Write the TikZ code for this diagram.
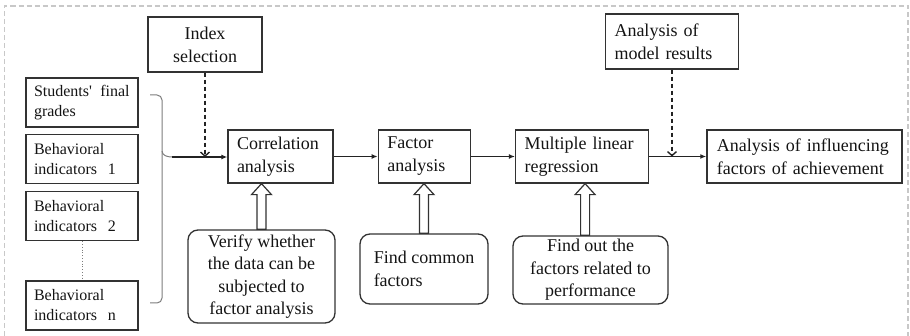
\documentclass[tikz,border=0pt]{standalone}
\usepackage{fontspec}
\setmainfont{Liberation Serif}
\usepackage{tikz}
\usetikzlibrary{
  positioning,
  arrows.meta,
  calc
}
\definecolor{boxborder}{RGB}{50,50,50}
\definecolor{textcol}{RGB}{20,20,20}
\definecolor{framegray}{RGB}{200,200,200}
\definecolor{bracegray}{RGB}{125,125,125}
\definecolor{arrowcolor}{RGB}{35,35,35}
\tikzset{
  procbox/.style={
    draw=boxborder, line width=1.3pt, text=textcol,
    minimum height=53pt, inner xsep=9pt, inner ysep=2pt,
    align=left, font=\fontsize{18}{23}\selectfont
  },
  inbox/.style={
    draw=boxborder, line width=1.3pt, text=textcol,
    minimum height=49pt, text width=96pt, inner xsep=8pt,
    align=left, font=\fontsize{16}{20}\selectfont
  },
  notebox/.style={
    draw=boxborder, line width=1.3pt, rounded corners=10pt, text=textcol,
    inner xsep=6pt, inner ysep=1pt,
    font=\fontsize{18}{22.5}\selectfont
  },
  flowarrow/.style={
    -{Latex[length=6pt,width=5pt]}, line width=1.2pt, draw=arrowcolor
  },
  dasharrow/.style={
    -{Straight Barb[length=4pt,width=9pt]}, line width=1.4pt, draw=arrowcolor,
    dash pattern=on 4pt off 3pt
  },
  bracelink/.style={
    draw=bracegray, line width=1pt, rounded corners=5pt
  },
  hollowarr/.style={
    draw=boxborder, line width=1.2pt, fill=white
  },
  framebox/.style={
    draw=framegray, line width=1.1pt, dash pattern=on 5pt off 3pt
  }
}
% hollow block arrow going up from #1 to #2
\newcommand{\hollowup}[2]{%
  \draw[hollowarr] let \p1=#1, \p2=#2 in
    (\x1-4.5pt,\y1) -- (\x1-4.5pt,\y2-11pt) -- (\x1-10pt,\y2-11pt) -- (\x1,\y2)
    -- (\x1+10pt,\y2-11pt) -- (\x1+4.5pt,\y2-11pt) -- (\x1+4.5pt,\y1) -- cycle;
}

\begin{document}
\begin{tikzpicture}[x=1pt, y=-1pt, node distance=6pt]
  \useasboundingbox (0,0) rectangle (910,336);

  % Outer frame (open at the bottom)
  \draw[framebox] (4.5,336) -- (4.5,6) -- (908,6) -- (908,336);

  % Column 0: inputs
  \node[inbox] (stu) at (82,102.5) {\mbox{Students\textquotesingle\hspace{3pt} final}\\grades};
  \node[inbox, below=6pt of stu] (bi1) {Behavioral\\indicators\ \ 1};
  \node[inbox, below=7pt of bi1] (bi2) {Behavioral\\indicators\ \ 2};
  \node[inbox, below=39pt of bi2] (bin) {Behavioral\\indicators\ \ n};
  \draw[draw=bracegray, line width=0.8pt, dotted] (bi2.south) -- (bin.north);

  % Brace collecting the inputs
  \coordinate (brtip) at (172,157);
  \draw[bracelink] (150,95) -| (162,157) |- (150,303);
  \draw[bracelink] (162,151) to[out=-90, in=180] (brtip);

  % Row 1: main steps
  \node[procbox, text width=87pt] (correl) at (280.5,156.5) {Correlation\\analysis};
  \node[procbox, text width=74pt, right=44pt of correl] (factor) {Factor\\analysis};
  \node[procbox, text width=115pt, right=44pt of factor] (mlr) {Multiple linear\\regression};
  \node[procbox, text width=175pt, inner xsep=10pt, right=57pt of mlr] (aif) {Analysis of influencing\\factors of achievement};

  % Row 0: top boxes
  \node[procbox, minimum height=55pt, text width=96pt, align=center] (index) at (205,44.5) {Index\\selection};
  \node[procbox, minimum height=55pt, text width=115pt] (model) at (672,41.5) {Analysis of\\model results};

  % Row 2: notes
  \node[notebox, minimum width=147pt, minimum height=93pt, align=center] (verify) at (261.5,276.5) {Verify whether\\the data can be\\subjected to\\factor analysis};
  \node[notebox, minimum width=128pt, minimum height=70pt, align=left] (common) at (424,269) {Find common\\factors};
  \node[notebox, minimum width=155pt, minimum height=68pt, align=center] (findout) at (590.5,270) {Find out the\\factors related to\\performance};

  % Arrows along row 1
  \draw[flowarrow] (brtip) -- (brtip -| correl.west);
  \draw[flowarrow] (correl) -- (factor);
  \draw[flowarrow] (factor) -- (mlr);
  \draw[flowarrow] (mlr) -- (aif);

  % Dashed arrows from the top boxes
  \coordinate (idxtip) at (index.south |- brtip);
  \coordinate (modtip) at (model.south |- aif.west);
  \draw[dasharrow] (index) -- (idxtip);
  \draw[dasharrow] (model) -- (modtip);

  % Hollow arrows from the notes
  \hollowup{(verify.north)}{(correl.south)}
  \hollowup{(common.north)}{(factor.south)}
  \hollowup{($(findout.north -| mlr.south)+(3,0)$)}{(mlr.south)}

\end{tikzpicture}
\end{document}
